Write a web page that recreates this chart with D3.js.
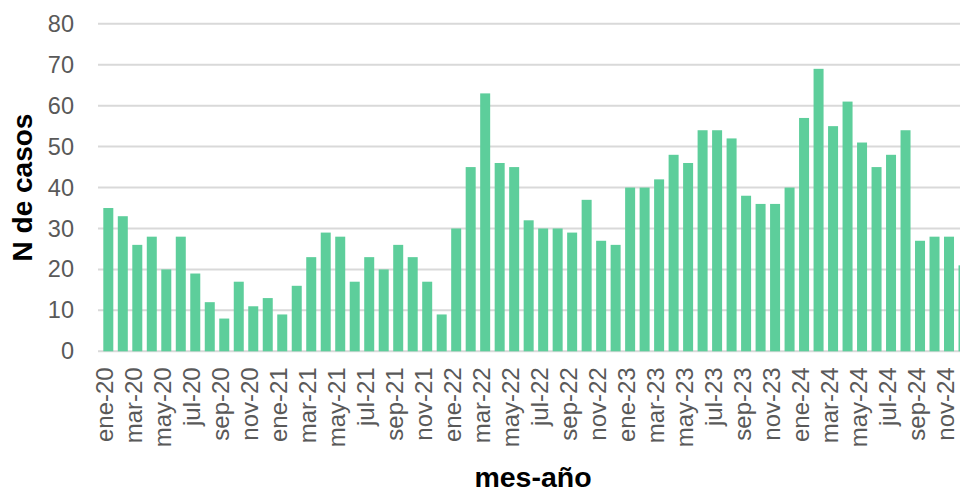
<!DOCTYPE html>
<html lang="es">
<head>
<meta charset="utf-8">
<script src="https://cdn.jsdelivr.net/npm/d3@7/dist/d3.min.js"></script>
<style>
  html, body { margin: 0; padding: 0; background: #ffffff; }
  svg { display: block; }
</style>
</head>
<body>
<svg id="chart" width="960" height="491"></svg>
<script>
// Casos mensuales, enero 2020 a diciembre 2024
const months = ["ene", "feb", "mar", "abr", "may", "jun", "jul", "ago", "sep", "oct", "nov", "dic"];
const years = ["20", "21", "22", "23", "24"];
const categories = years.flatMap(y => months.map(m => `${m}-${y}`));

const casos = [
  35, 33, 26, 28, 20, 28, 19, 12, 8, 17, 11, 13,
  9, 16, 23, 29, 28, 17, 23, 20, 26, 23, 17, 9,
  30, 45, 63, 46, 45, 32, 30, 30, 29, 37, 27, 26,
  40, 40, 42, 48, 46, 54, 54, 52, 38, 36, 36, 40,
  57, 69, 55, 61, 51, 45, 48, 54, 27, 28, 28, 21
];

const yTicks = [0, 10, 20, 30, 40, 50, 60, 70, 80];
const yTitle = "N de casos";
const xTitle = "mes-año";

const svg = d3.select("#chart");
const plotLeft = 98, plotBottom = 351.3, plotTop = 23.8;
const step = 14.495;

const x = d3.scaleBand()
  .domain(categories)
  .range([plotLeft, plotLeft + step * (categories.length - 0.31 + 2 * 0.366)])
  .paddingInner(0.31)
  .paddingOuter(0.366)
  .align(0.5);

const y = d3.scaleLinear().domain([0, 80]).range([plotBottom, plotTop]);

// horizontal grid
svg.append("g")
  .selectAll("line")
  .data(yTicks)
  .join("line")
  .attr("x1", plotLeft)
  .attr("x2", 960)
  .attr("y1", d => y(d))
  .attr("y2", d => y(d))
  .attr("stroke", "#d9d9d9")
  .attr("stroke-width", 2);

// y axis labels
const yAxis = svg.append("g")
  .attr("transform", `translate(${plotLeft},0)`)
  .call(d3.axisLeft(y).tickValues(yTicks).tickSize(0).tickPadding(24));
yAxis.select(".domain").remove();
yAxis.selectAll("text")
  .attr("font-family", "Liberation Sans, Arial, sans-serif")
  .attr("font-size", 23.5)
  .attr("fill", "#595959");

// bars
svg.append("g")
  .selectAll("rect")
  .data(casos)
  .join("rect")
  .attr("x", (d, i) => x(categories[i]))
  .attr("width", x.bandwidth())
  .attr("y", d => y(d))
  .attr("height", d => y(0) - y(d))
  .attr("fill", "#5dce9b");

// x axis: every second month
const xAxis = svg.append("g")
  .attr("transform", `translate(0,${plotBottom})`)
  .call(d3.axisBottom(x)
    .tickValues(categories.filter((c, i) => i % 2 === 0))
    .tickSize(0)
    .tickPadding(0));
xAxis.select(".domain").remove();
xAxis.selectAll("text")
  .attr("font-family", "Liberation Sans, Arial, sans-serif")
  .attr("font-size", 24)
  .attr("fill", "#595959")
  .attr("text-anchor", "end")
  .attr("dy", null)
  .attr("transform", "translate(-4,16) rotate(-90)")
  .attr("x", 0)
  .attr("y", 0)
  .attr("dominant-baseline", "central");

// axis titles
svg.append("text")
  .attr("transform", `translate(32,${(plotTop + plotBottom) / 2}) rotate(-90)`)
  .attr("text-anchor", "middle")
  .attr("font-family", "Liberation Sans, Arial, sans-serif")
  .attr("font-weight", "bold")
  .attr("font-size", 28)
  .attr("fill", "#000000")
  .text(yTitle);

svg.append("text")
  .attr("x", 533)
  .attr("y", 487)
  .attr("text-anchor", "middle")
  .attr("font-family", "Liberation Sans, Arial, sans-serif")
  .attr("font-weight", "bold")
  .attr("font-size", 28.5)
  .attr("fill", "#000000")
  .text(xTitle);
</script>
</body>
</html>
